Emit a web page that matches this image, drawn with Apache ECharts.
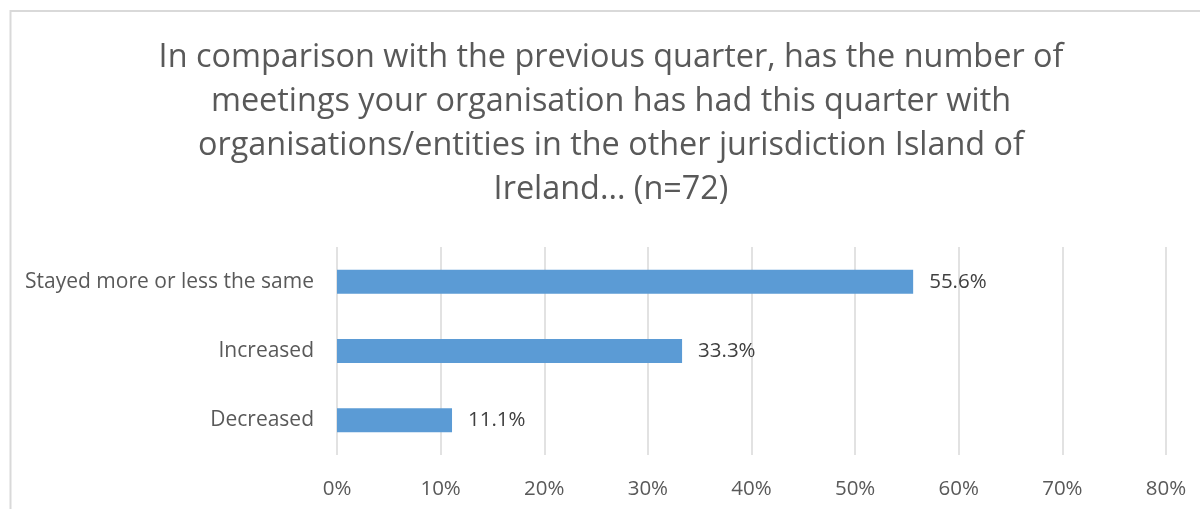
<!DOCTYPE html>
<html>
<head>
<meta charset="utf-8">
<style>
  html, body { margin: 0; padding: 0; background: #fff; }
  #chart { width: 1200px; height: 509px; }
</style>
<script src="https://cdn.jsdelivr.net/npm/echarts@6/dist/echarts.min.js"></script>
</head>
<body>
<div id="chart"></div>
<script>
// survey answers, bottom to top as drawn
const categories = ['Decreased', 'Increased', 'Stayed more or less the same']
const shares = [11.1, 33.3, 55.6]
const axisMax = 80
const axisStep = 10

const titleLines = [
  'In comparison with the previous quarter, has the number of',
  'meetings your organisation has had this quarter with',
  'organisations/entities in the other jurisdiction Island of',
  'Ireland... (n=72)'
]

const font = '"Open Sans", "Noto Sans", sans-serif'

const chart = echarts.init(document.getElementById('chart'))
chart.setOption({
  animation: false,
  graphic: [
    // outer frame of the chart box
    {
      type: 'rect',
      shape: { x: 10.5, y: 11, width: 1400, height: 700 },
      style: { fill: null, stroke: '#d9d9d9', lineWidth: 2 },
      silent: true
    },
    // title, centred on the frame rather than the canvas
    {
      type: 'text',
      x: 611,
      y: 36,
      style: {
        text: titleLines.join('\n'),
        textAlign: 'center',
        textVerticalAlign: 'top',
        fontFamily: font,
        fontSize: 32.4,
        lineHeight: 44,
        fill: '#595959'
      },
      silent: true
    }
  ],
  grid: {
    left: 337,
    right: 34,
    top: 247,
    bottom: 54
  },
  xAxis: {
    type: 'value',
    min: 0,
    max: axisMax,
    interval: axisStep,
    axisLine: { show: false },
    axisTick: { show: false },
    splitLine: { lineStyle: { color: '#d9d9d9', width: 1.5 } },
    axisLabel: {
      formatter: '{value}%',
      margin: 24,
      fontFamily: font,
      fontSize: 20.5,
      color: '#595959'
    }
  },
  yAxis: {
    type: 'category',
    data: categories,
    axisLine: { show: false },
    axisTick: { show: false },
    axisLabel: {
      margin: 23,
      fontFamily: font,
      fontSize: 21,
      color: '#595959'
    }
  },
  series: [{
    type: 'bar',
    data: shares,
    barWidth: 24,
    itemStyle: { color: '#5b9bd5' },
    label: {
      show: true,
      position: 'right',
      distance: 16,
      formatter: p => p.value.toFixed(1) + '%',
      fontFamily: font,
      fontSize: 20.5,
      color: '#404040'
    }
  }]
})
</script>
</body>
</html>
